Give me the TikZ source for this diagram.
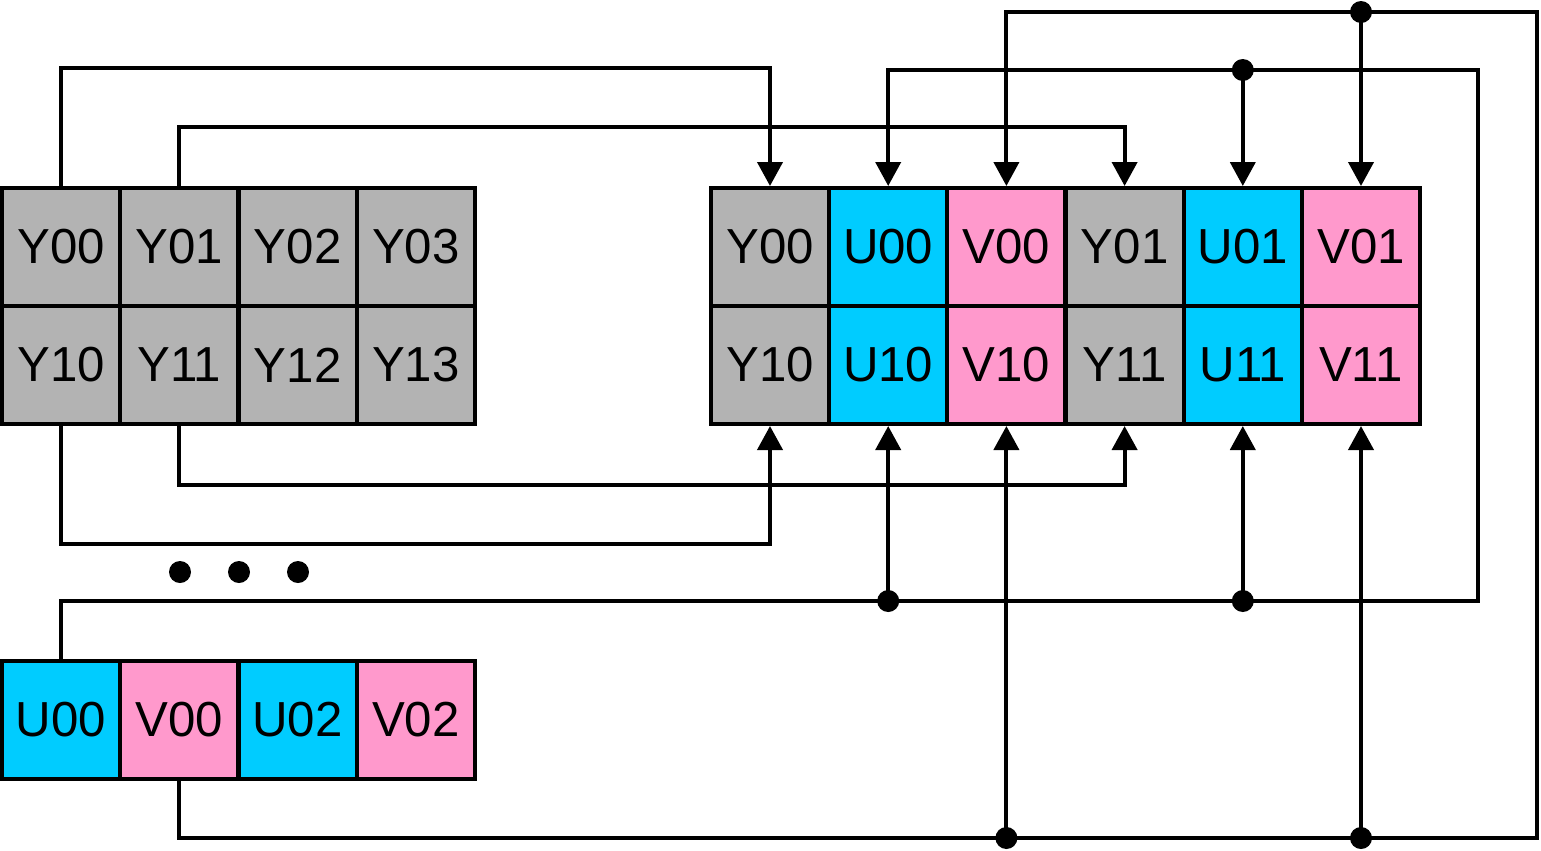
\documentclass[tikz,border=0pt]{standalone}
\usepackage{fontspec}
\setmainfont{Liberation Sans}
\usetikzlibrary{arrows.meta}
\definecolor{ygray}{HTML}{B3B3B3}
\definecolor{ucyan}{HTML}{00CCFF}
\definecolor{vpink}{HTML}{FF99CC}
\begin{document}
\begin{tikzpicture}[x=0.02cm,y=-0.02cm,
  cell/.style={draw=black,line width=2.3pt,inner sep=0pt,
    minimum width=2.365cm,minimum height=2.36cm,
    font=\fontsize{28}{34}\selectfont},
  ycell/.style={cell,fill=ygray},
  ucell/.style={cell,fill=ucyan},
  vcell/.style={cell,fill=vpink},
  wire/.style={line width=2.3pt,line join=miter},
  arr/.style={wire,-{Triangle[length=0.48cm,width=0.5cm]}},
  junction/.style={circle,fill=black,inner sep=0pt,minimum size=0.44cm}]
\useasboundingbox (0,0) rectangle (1541,850);

% planar Y grid
\node[ycell] (ly00) at (61.1,247) {Y00};
\node[ycell] (ly01) at (179.4,247) {Y01};
\node[ycell] (ly02) at (297.6,247) {Y02};
\node[ycell] (ly03) at (415.9,247) {Y03};
\node[ycell] (ly10) at (61.1,365) {Y10};
\node[ycell] (ly11) at (179.4,365) {Y11};
\node[ycell] (ly12) at (297.6,365) {Y12};
\node[ycell] (ly13) at (415.9,365) {Y13};

% interleaved UV row
\node[ucell] (bu00) at (61.1,720) {U00};
\node[vcell] (bv00) at (179.4,720) {V00};
\node[ucell] (bu02) at (297.6,720) {U02};
\node[vcell] (bv02) at (415.9,720) {V02};

% packed output
\node[ycell] (ry00) at (770,247) {Y00};
\node[ucell] (ru00) at (888.2,247) {U00};
\node[vcell] (rv00) at (1006.4,247) {V00};
\node[ycell] (ry01) at (1124.6,247) {Y01};
\node[ucell] (ru01) at (1242.8,247) {U01};
\node[vcell] (rv01) at (1361,247) {V01};
\node[ycell] (ry10) at (770,365) {Y10};
\node[ucell] (ru10) at (888.2,365) {U10};
\node[vcell] (rv10) at (1006.4,365) {V10};
\node[ycell] (ry11) at (1124.6,365) {Y11};
\node[ucell] (ru11) at (1242.8,365) {U11};
\node[vcell] (rv11) at (1361,365) {V11};

% ellipsis
\node[junction] (e1) at (180,572) {};
\node[junction] (e2) at (239,572) {};
\node[junction] (e3) at (298,572) {};

% Y routes
\draw[arr] (ly00.north) -- ++(0,-118) -| (ry00.north);
\draw[arr] (ly01.north) -- ++(0,-59) -| (ry01.north);
\draw[arr] (ly10.south) -- ++(0,118) -| (ry10.south);
\draw[arr] (ly11.south) -- ++(0,59) -| (ry11.south);

% U route
\coordinate (uj1) at (888.2,601);
\coordinate (uj2) at (1242.8,601);
\coordinate (uc) at (1478,601);
\coordinate (uj3) at (1242.8,70);
\draw[arr] (bu00.north) |- (uc) |- (uj3) -| (ru00.north);
\draw[arr] (uj1) -- (ru10.south);
\draw[arr] (uj2) -- (ru11.south);
\draw[arr] (uj3) -- (ru01.north);
\node[junction] at (uj1) {};
\node[junction] at (uj2) {};
\node[junction] at (uj3) {};

% V route
\coordinate (vj1) at (1006.4,838);
\coordinate (vj2) at (1361,838);
\coordinate (vc) at (1537,838);
\coordinate (vj3) at (1361,12);
\draw[arr] (bv00.south) |- (vc) |- (vj3) -| (rv00.north);
\draw[arr] (vj1) -- (rv10.south);
\draw[arr] (vj2) -- (rv11.south);
\draw[arr] (vj3) -- (rv01.north);
\node[junction] at (vj1) {};
\node[junction] at (vj2) {};
\node[junction] at (vj3) {};
\end{tikzpicture}
\end{document}
